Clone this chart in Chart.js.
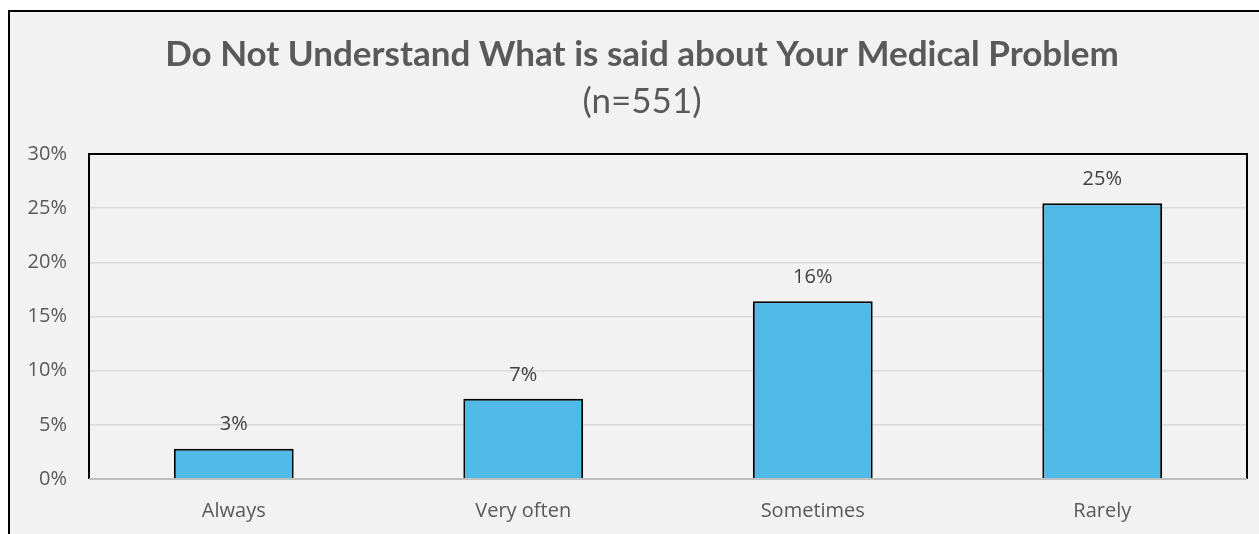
<!DOCTYPE html>
<html><head><meta charset="utf-8">
<script src="https://cdn.jsdelivr.net/npm/chart.js@4/dist/chart.umd.min.js"></script>
<style>html,body{margin:0;padding:0;background:#fff;overflow:hidden;}#wrap{width:1259px;height:534px;position:relative;overflow:hidden;}</style>
</head><body><div id="wrap"><canvas id="c" width="1259" height="534"></canvas></div>
<script>
const categories = ["Always", "Very often", "Sometimes", "Rarely"];
const values = [2.8, 7.4, 16.4, 25.45];
const titleText = "Do Not Understand What is said about Your Medical Problem";
const subtitleText = "(n=551)";
const yMin = 0, yMax = 30, yStep = 5;

const frame = {
  id: 'frame',
  afterLayout(chart) {
    // the original chart box extends past the right edge of the picture,
    // so its titles are centred slightly right of the visible middle
    chart.boxes.forEach(b => {
      if (b.options && typeof b.options.text === 'string' && b.fullSize && b.position === 'top') {
        b.left = 37;
      }
    });
  },
  beforeDraw(chart) {
    const ctx = chart.ctx;
    ctx.save();
    ctx.fillStyle = '#ffffff';
    ctx.fillRect(0, 0, chart.width, chart.height);
    ctx.fillStyle = '#f2f2f2';
    ctx.fillRect(9, 11, chart.width + 20, chart.height + 20);
    ctx.strokeStyle = '#000';
    ctx.lineWidth = 2;
    ctx.strokeRect(9, 11, chart.width + 20, chart.height + 20);
    ctx.restore();
  },
  afterDatasetsDraw(chart) {
    const {ctx, chartArea: a} = chart;
    ctx.save();
    ctx.strokeStyle = '#000';
    ctx.lineWidth = 2;
    ctx.beginPath();
    ctx.moveTo(a.left, a.bottom);
    ctx.lineTo(a.left, a.top);
    ctx.lineTo(a.right, a.top);
    ctx.lineTo(a.right, a.bottom);
    ctx.stroke();
    ctx.strokeStyle = '#bfbfbf';
    ctx.beginPath();
    ctx.moveTo(a.left, a.bottom);
    ctx.lineTo(a.right, a.bottom);
    ctx.stroke();
    const meta = chart.getDatasetMeta(0);
    ctx.fillStyle = '#404040';
    ctx.font = '20px "Open Sans"';
    ctx.textAlign = 'center';
    ctx.textBaseline = 'middle';
    meta.data.forEach((bar, i) => {
      ctx.fillText(Math.round(values[i]) + '%', bar.x, bar.y - 24);
    });
    ctx.restore();
  }
};

new Chart(document.getElementById('c'), {
  type: 'bar',
  data: {
    labels: categories,
    datasets: [{
      data: values,
      backgroundColor: '#4fbae7',
      borderColor: '#000',
      borderWidth: 2,
      borderSkipped: 'bottom',
      categoryPercentage: 1,
      barPercentage: 0.414
    }]
  },
  options: {
    responsive: false,
    animation: false,
    layout: { padding: { left: 0, right: 12, top: 0, bottom: 0 } },
    plugins: {
      legend: { display: false },
      tooltip: { enabled: false },
      title: {
        display: true, text: titleText, color: '#595959',
        font: { family: 'Lato', size: 35, weight: 'bold', lineHeight: 1.2 },
        padding: { top: 34, bottom: 3 }
      },
      subtitle: {
        display: true, text: subtitleText, color: '#595959',
        font: { family: 'Lato', size: 35, weight: 'normal', lineHeight: 1.2 },
        padding: { top: 2, bottom: 31 }
      }
    },
    scales: {
      x: {
        grid: { display: false },
        border: { display: false },
        ticks: { color: '#595959', font: { family: 'Open Sans', size: 20 }, padding: 12 },
        afterFit(s) { s.height = 55; }
      },
      y: {
        min: yMin, max: yMax,
        grid: { color: '#d9d9d9', lineWidth: 1.5, drawTicks: false },
        border: { display: false },
        ticks: { stepSize: yStep, color: '#595959', font: { family: 'Open Sans', size: 20 }, padding: 22,
                 callback: v => v + '%' },
        afterFit(s) { s.width = 89; }
      }
    }
  },
  plugins: [frame]
});
</script></body></html>
